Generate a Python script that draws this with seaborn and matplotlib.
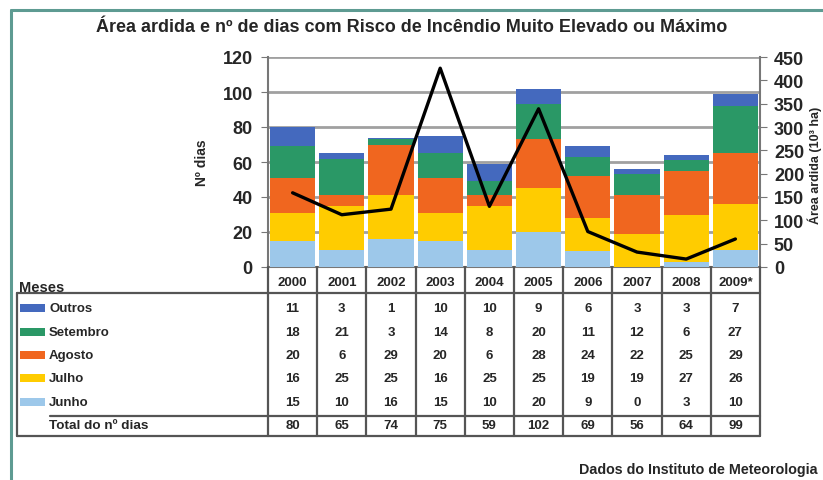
import numpy as np
import matplotlib
matplotlib.use("Agg")
import matplotlib.pyplot as plt
from matplotlib.lines import Line2D
from matplotlib.patches import Rectangle
import seaborn as sns

# Data
years = ["2000", "2001", "2002", "2003", "2004", "2005", "2006", "2007", "2008", "2009*"]
junho = [15, 10, 16, 15, 10, 20, 9, 0, 3, 10]
julho = [16, 25, 25, 16, 25, 25, 19, 19, 27, 26]
agosto = [20, 6, 29, 20, 6, 28, 24, 22, 25, 29]
setembro = [18, 21, 3, 14, 8, 20, 11, 12, 6, 27]
outros = [11, 3, 1, 10, 10, 9, 6, 3, 3, 7]
totals = [80, 65, 74, 75, 59, 102, 69, 56, 64, 99]
area_ardida = [159, 112, 124, 426, 130, 339, 76, 32, 17, 60]  # 10^3 ha

series_names = ["Junho", "Julho", "Agosto", "Setembro", "Outros"]
series_vals = [junho, julho, agosto, setembro, outros]
colors = ["#9dc8ea", "#ffcc00", "#f0661f", "#2a9866", "#4469be"]

sns.set_style("white")
plt.rcParams["font.family"] = ["Liberation Sans Narrow", "Liberation Sans", "DejaVu Sans"]
plt.rcParams["font.weight"] = "bold"

W, H = 823, 481
fig = plt.figure(figsize=(W / 100, H / 100), dpi=100)


def fx(px):
    return px / W


def fy(py):
    return 1 - py / H


x0, x1, y_top, y_bot = 268, 760, 58, 268
ax = fig.add_axes([fx(x0), fy(y_bot), fx(x1 - x0), (y_bot - y_top) / H])

# Stacked bars
bottom = np.zeros(len(years))
for name, vals, c in zip(series_names, series_vals, colors):
    sns.barplot(x=years, y=vals, bottom=bottom, color=c, width=0.92,
                ax=ax, linewidth=0, saturation=1, zorder=3)
    bottom += np.array(vals)

ax.set_xlim(-0.5, len(years) - 0.5)
ax.set_ylim(0, 120)
ax.set_yticks(range(0, 121, 20))
ax.set_xticks([])
ax.set_xlabel("")
ax.set_ylabel("Nº dias", fontsize=10, fontweight="bold", labelpad=10)
ax.yaxis.grid(True, color="#a0a0a0", linewidth=2, zorder=0)
ax.set_axisbelow(True)
for s in ["top", "right"]:
    ax.spines[s].set_visible(False)
for s in ["left", "bottom"]:
    ax.spines[s].set_color("#777777")
    ax.spines[s].set_linewidth(1.5)
ax.tick_params(axis="y", direction="out", length=5, color="#777777",
               labelsize=13, pad=6)

# Line on secondary axis
ax2 = ax.twinx()
sns.lineplot(x=np.arange(len(years)), y=area_ardida, ax=ax2, color="black",
             linewidth=2.4, zorder=5)
ax2.set_ylim(0, 450)
ax2.set_yticks(range(0, 451, 50))
ax2.set_ylabel("")
for s in ["top", "left", "bottom"]:
    ax2.spines[s].set_visible(False)
ax2.spines["right"].set_color("#777777")
ax2.spines["right"].set_linewidth(1.5)
ax2.tick_params(axis="y", direction="out", length=5, color="#777777",
                labelsize=13, pad=5)
fig.text(fx(815), fy(165), "Área ardida (10³ ha)", rotation=90, ha="center",
         va="center", fontsize=9, fontweight="bold")

# Title
fig.text(fx(412), fy(28), "Área ardida e nº de dias com Risco de Incêndio Muito Elevado ou Máximo",
         ha="center", va="center", fontsize=13, fontweight="bold")

# Table
lc = "#555555"
lw = 1.6


def hline(y, xa, xb):
    fig.add_artist(Line2D([fx(xa), fx(xb)], [fy(y), fy(y)], color=lc, linewidth=lw))


def vline(x, ya, yb):
    fig.add_artist(Line2D([fx(x), fx(x)], [fy(ya), fy(yb)], color=lc, linewidth=lw))


col_w = (x1 - x0) / len(years)
t_left, t_head, t_sep, t_bot = 17, 294, 417, 437
for i in range(len(years) + 1):
    vline(x0 + i * col_w, y_bot, t_bot)
hline(t_head, t_left, x1)
hline(t_bot, t_left, x1)
vline(t_left, t_head, t_bot)
hline(t_sep, 50, x1)

for i, yr in enumerate(years):
    fig.text(fx(x0 + (i + 0.5) * col_w), fy(283), yr, ha="center", va="center",
             fontsize=9.5, fontweight="bold")

fig.text(fx(19), fy(288), "Meses", ha="left", va="center", fontsize=10.5, fontweight="bold")

row_y = [309, 333, 356, 379, 403]
table_rows = list(zip(series_names, series_vals, colors))[::-1]
for ry, (name, vals, c) in zip(row_y, table_rows):
    fig.add_artist(Rectangle((fx(20), fy(ry + 4)), fx(25), 8 / H,
                             facecolor=c, edgecolor="none"))
    fig.text(fx(49), fy(ry), name, ha="left", va="center", fontsize=9.5, fontweight="bold")
    for i, v in enumerate(vals):
        fig.text(fx(x0 + (i + 0.5) * col_w), fy(ry), str(v), ha="center", va="center",
                 fontsize=9.5, fontweight="bold")

fig.text(fx(49), fy(426), "Total do nº dias", ha="left", va="center", fontsize=9.7,
         fontweight="bold")
for i, v in enumerate(totals):
    fig.text(fx(x0 + (i + 0.5) * col_w), fy(426), str(v), ha="center", va="center",
             fontsize=9.5, fontweight="bold")

# Footer
fig.text(fx(818), fy(470), "Dados do Instituto de Meteorologia", ha="right", va="center",
         fontsize=10.3, fontweight="bold")

# Outer frame
fc = "#5e9b92"
fig.add_artist(Line2D([fx(11), fx(11)], [fy(11), 0], color=fc, linewidth=2.2))
fig.add_artist(Line2D([fx(11), 1], [fy(11), fy(11)], color=fc, linewidth=2.2))

fig.savefig("out.png", dpi=100, facecolor="white")
